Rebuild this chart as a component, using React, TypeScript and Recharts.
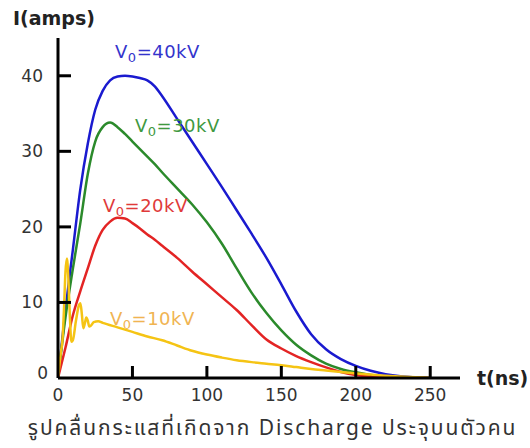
import * as React from 'react'
import { LineChart, XAxis, YAxis, Line, ReferenceDot } from 'recharts'

// time samples (ns) shared by the 40/30/20 kV curves
const times = [0, 5, 10, 15, 20, 25, 30, 35, 40, 45, 50, 55, 60, 65, 70, 80, 90, 100, 110, 120, 130, 140, 150, 160, 170, 180, 190, 200, 210, 220, 230, 240, 250]
const amps40 = [0, 9, 17, 25, 31, 35.5, 38, 39.4, 39.9, 40, 39.9, 39.7, 39.4, 38.6, 37.3, 34.3, 31.3, 28.3, 25.3, 22.2, 19.1, 15.9, 12.4, 8.8, 5.8, 3.8, 2.5, 1.6, 0.95, 0.5, 0.22, 0.07, 0]
const amps30 = [0, 8, 14.5, 20.5, 27, 31.3, 33.2, 33.8, 33.2, 32.3, 31.3, 30.3, 29.3, 28.3, 27.2, 25.1, 23, 20.6, 17.8, 14.5, 11.3, 8.6, 6.3, 4.4, 3.0, 1.9, 1.2, 0.75, 0.4, 0.2, 0.08, 0.03, 0]
const amps20 = [0, 4, 8.3, 11.5, 14.5, 17.5, 19.6, 20.7, 21.2, 21.1, 20.5, 19.8, 19, 18.3, 17.5, 15.9, 14.1, 12.4, 10.7, 9, 7, 5.1, 3.9, 2.9, 2.1, 1.4, 0.8, 0.4, 0.2, 0.1, 0.05, 0.02, 0]

// 10 kV curve needs finer sampling for the early ringing
const times10 = [0, 2, 3, 4, 5, 6, 7, 8, 9, 10, 12, 14, 15, 16, 17, 18, 19, 20, 21, 22, 24, 27, 30, 40, 50, 60, 70, 80, 90, 100, 110, 120, 130, 140, 150, 160, 170, 180, 190, 200, 210, 220, 230, 240, 250]
const amps10 = [0, 3.5, 5, 9, 14, 15.8, 13, 8, 4.8, 5, 7.5, 9.6, 9.9, 8.5, 6.6, 7.2, 8, 7.6, 6.8, 6.9, 7.4, 7.5, 7.3, 6.7, 6.1, 5.5, 5, 4.3, 3.6, 3.1, 2.7, 2.35, 2.1, 1.9, 1.7, 1.45, 1.2, 1, 0.8, 0.6, 0.45, 0.3, 0.2, 0.1, 0]

const xTicks = [0, 50, 100, 150, 200, 250]
const yTicks = [0, 10, 20, 30, 40]

const seriesLabels = ['40kV', '30kV', '20kV', '10kV']
// where each label sits, in chart units (t, I)
const labelAnchors = [
  { t: 38.3, i: 42.4 },
  { t: 51.7, i: 32.5 },
  { t: 30.2, i: 22.0 },
  { t: 34.9, i: 7.0 },
]

const lineColors = ['#1a1acf', '#2b8a2b', '#e32424', '#f5c414']
const labelColors = ['#3434cc', '#3f993f', '#e03a3a', '#f0b452']

const toRows = (ts: number[], vs: number[]) => ts.map((t, k) => ({ t, v: vs[k] }))

const FONT = '"DejaVu Sans", Verdana, sans-serif'
const AXIS_Y = 378

function XTick(props: any) {
  const { x, payload } = props
  return (
    <g>
      {payload.value !== 0 && <line x1={x} x2={x} y1={AXIS_Y} y2={AXIS_Y - 12} stroke="#000" strokeWidth={3} />}
      <text x={x} y={AXIS_Y + 17} textAnchor="middle" dominantBaseline="central" fontSize={17} fill="#333" fontFamily={FONT}>
        {payload.value}
      </text>
    </g>
  )
}

function YTick(props: any) {
  const { x, y, payload } = props
  const zero = payload.value === 0
  return (
    <g>
      {!zero && <line x1={x} x2={x + 13} y1={y} y2={y} stroke="#000" strokeWidth={3} />}
      <text x={zero ? x - 10 : x - 15} y={zero ? y - 5 : y} textAnchor="end" dominantBaseline="central" fontSize={17} fill="#333" fontFamily={FONT}>
        {payload.value}
      </text>
    </g>
  )
}

export default function App() {
  const series = [toRows(times, amps40), toRows(times, amps30), toRows(times, amps20), toRows(times10, amps10)]

  return (
    <div style={{ position: 'absolute', left: 0, top: 0, width: 530, height: 448, background: '#fff', fontFamily: FONT }}>
      <LineChart width={530} height={448} margin={{ top: 38, right: 70, left: 0, bottom: 0 }}>
        <XAxis
          type="number"
          dataKey="t"
          domain={[0, 270]}
          ticks={xTicks}
          height={70}
          tickSize={0}
          tickMargin={0}
          tickLine={false}
          tick={<XTick />}
          axisLine={{ stroke: '#000', strokeWidth: 3 }}
          allowDataOverflow
        />
        <YAxis
          type="number"
          domain={[0, 45]}
          ticks={yTicks}
          width={58}
          tickSize={0}
          tickMargin={0}
          tickLine={false}
          tick={<YTick />}
          axisLine={{ stroke: '#000', strokeWidth: 3 }}
          allowDataOverflow
        />
        {series.map((rows, k) => (
          <Line
            key={seriesLabels[k]}
            data={rows}
            dataKey="v"
            type="monotone"
            stroke={lineColors[k]}
            strokeWidth={2.5}
            dot={false}
            activeDot={false}
            isAnimationActive={false}
          />
        ))}
        {labelAnchors.map((a, k) => (
          <ReferenceDot
            key={'lbl' + k}
            x={a.t}
            y={a.i}
            r={0}
            shape={(p: any) => (
              <text x={p.cx} y={p.cy} fill={labelColors[k]} fontSize={18} fontFamily={FONT} letterSpacing={0.5}>
                V
                <tspan fontSize={13} dy={4}>0</tspan>
                <tspan dy={-4}>={seriesLabels[k]}</tspan>
              </text>
            )}
          />
        ))}
      </LineChart>
      <div style={{ position: 'absolute', left: 13, top: 8, fontSize: 19, lineHeight: '20px', fontWeight: 'bold', color: '#222' }}>I(amps)</div>
      <div style={{ position: 'absolute', left: 477, top: 368, fontSize: 19, lineHeight: '20px', fontWeight: 'bold', color: '#222' }}>t(ns)</div>
      <div
        style={{
          position: 'absolute',
          left: 0,
          width: 545,
          top: 416,
          textAlign: 'center',
          fontSize: 21,
          letterSpacing: 1.9,
          lineHeight: '26px',
          color: '#333',
          fontFamily: '"Noto Sans Thai", Tahoma, "DejaVu Sans", sans-serif',
        }}
      >
        รูปคลื่นกระแสที่เกิดจาก Discharge ประจุบนตัวคน
      </div>
    </div>
  )
}
